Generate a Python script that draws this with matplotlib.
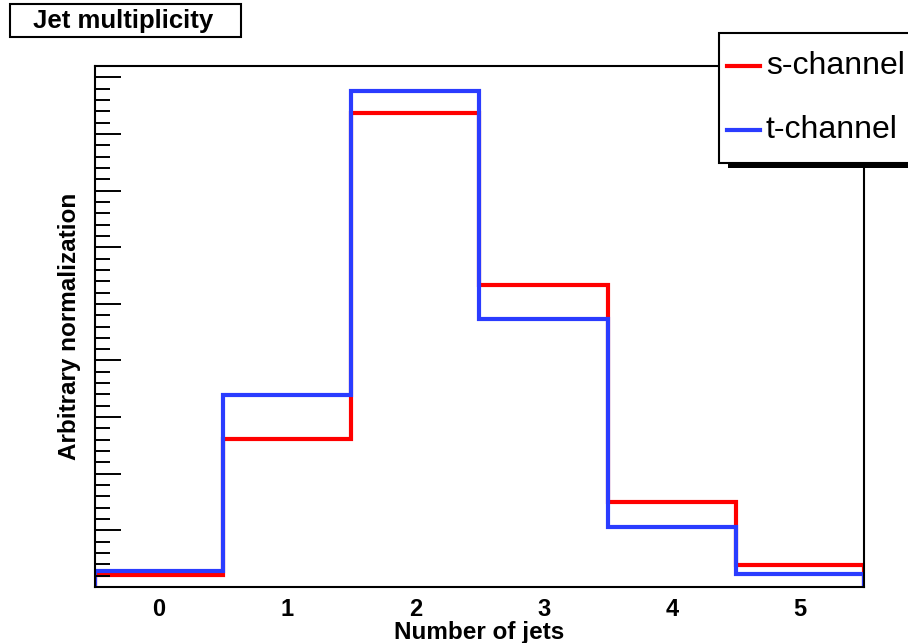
import numpy as np
import matplotlib
matplotlib.use('Agg')
import matplotlib.pyplot as plt
from matplotlib.patches import Rectangle
from matplotlib.ticker import MultipleLocator

plt.rcParams['font.family'] = ['Liberation Sans', 'DejaVu Sans']

# histogram contents (arbitrary normalization), bins centred on 0..5 jets
nJets = [0, 1, 2, 3, 4, 5]
sChannel = [0.0105, 0.1305, 0.4185, 0.267, 0.075, 0.0195]
tChannel = [0.014, 0.1695, 0.4375, 0.2365, 0.053, 0.0115]
labels = ['s-channel', 't-channel']
colors = ['#ff0000', '#2a3cff']

edges = np.append(np.array(nJets) - 0.5, nJets[-1] + 0.5)

fig = plt.figure(figsize=(9.08, 6.43), dpi=100)
ax = fig.add_axes([95/908, 1 - 587/643, (864-95)/908, (587-66)/643])

for vals, col in zip([sChannel, tChannel], colors):
    ax.stairs(vals, edges, color=col, lw=3)

ax.set_xlim(edges[0], edges[-1])
ax.set_ylim(0, 0.46)
ax.set_xticks(nJets)
ax.tick_params(axis='x', length=0, pad=8, labelsize=17)
for t in ax.get_xticklabels():
    t.set_fontweight('bold')
ax.yaxis.set_major_locator(MultipleLocator(0.05))
ax.yaxis.set_minor_locator(MultipleLocator(0.01))
ax.tick_params(axis='y', which='major', length=19, width=1.4, direction='in', labelleft=False)
ax.tick_params(axis='y', which='minor', length=11, width=1.4, direction='in')
for s in ax.spines.values():
    s.set_linewidth(1.5)

ax.set_xlabel('Number of jets', fontsize=17.5, fontweight='bold', labelpad=0)
ax.set_ylabel('Arbitrary normalization', fontsize=17.5, fontweight='bold', labelpad=7)

# title box
fig.patches.append(Rectangle((10/908, 1 - 37/643), 231/908, 33/643, transform=fig.transFigure,
                             fill=True, facecolor='white', edgecolor='black', lw=1.5))
fig.text(123/908, 1 - 21/643, 'Jet multiplicity', ha='center', va='center',
         fontsize=18.5, fontweight='bold')

# legend box with shadow
fig.patches.append(Rectangle((728/908, 1 - 168/643), 200/908, 130/643, transform=fig.transFigure,
                             facecolor='black', edgecolor='black', lw=0))
fig.patches.append(Rectangle((719/908, 1 - 163/643), 200/908, 130/643, transform=fig.transFigure,
                             facecolor='white', edgecolor='black', lw=1.5))
for i, (lab, col) in enumerate(zip(labels, colors)):
    y = 1 - (66 + 64*i)/643
    fig.add_artist(plt.Line2D([727/908, 760/908], [y, y], transform=fig.transFigure, color=col, lw=3))
    fig.text(766/908, y, lab, ha='left', va='center', fontsize=23)

fig.savefig('out.png', dpi=100)
